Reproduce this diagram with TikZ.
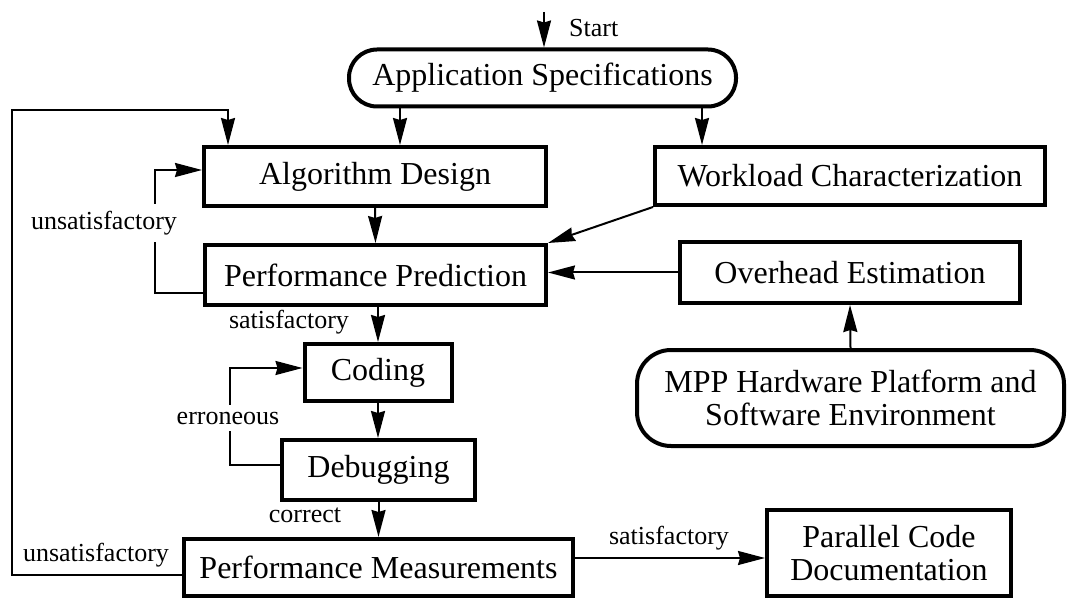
\documentclass[tikz,border=0pt]{standalone}
\usepackage{fontspec}
\setmainfont{Liberation Serif}
\usetikzlibrary{arrows.meta,calc}

\tikzset{
  box/.style={draw, line width=4pt, rectangle, inner sep=0pt,
              font=\fontsize{32}{33}\selectfont, align=center},
  rbox/.style={box, rounded corners=28pt},
  conn/.style={line width=2pt},
  arr/.style={conn, -{Stealth[length=27pt,width=14pt,inset=2pt]}},
  lbl/.style={font=\fontsize{26}{28}\selectfont, inner sep=0pt},
  gaplbl/.style={lbl, fill=white, inner xsep=0pt, inner ysep=7pt}
}

\begin{document}
\begin{tikzpicture}[x=1pt,y=-1pt]
\useasboundingbox (0,0) rectangle (1067,601);

% boxes
\node[rbox, minimum width=387pt, minimum height=57pt] (spec) at (542.5,78) {Application Specifications};
\node[box, minimum width=342pt, minimum height=59pt] (alg) at (375,176.5) {Algorithm Design};
\node[box, minimum width=390pt, minimum height=58pt] (wl) at (850,176) {Workload Characterization};
\node[box, minimum width=341pt, minimum height=60pt] (pred) at (375.5,275) {Performance Prediction};
\node[box, minimum width=340pt, minimum height=61pt] (oh) at (850,272.5) {Overhead Estimation};
\node[rbox, rounded corners=34pt, minimum width=427pt, minimum height=96pt] (mpp) at (850.5,398)
  {MPP Hardware Platform and\\Software Environment};
\node[box, minimum width=147pt, minimum height=57pt] (code) at (378,372.5) {Coding};
\node[box, minimum width=193pt, minimum height=60pt] (dbg) at (378.5,470) {Debugging};
\node[box, minimum width=389pt, minimum height=57pt] (meas) at (378.5,567.5) {Performance Measurements};
\node[box, minimum width=244pt, minimum height=86pt] (doc) at (889,553) {Parallel Code\\Documentation};

% helper coordinates for connector positions
\coordinate (start) at (544,12);
\coordinate (xa) at (400,0);
\coordinate (xw) at (702,0);
\coordinate (xo) at (228,0);
\coordinate (xl) at (12,0);
\coordinate (yt) at (0,110);
\coordinate (xu) at (155,0);
\coordinate (xe) at (230,0);

% start
\draw[arr] (start) -- (start |- spec.north);
\node[lbl, anchor=west] (startlbl) at (569,28) {Start};

% from specifications
\draw[arr] (spec.south -| xa) -- (alg.north -| xa);
\draw[arr] (spec.south -| xw) -- (wl.north -| xw);

% design / prediction chain
\draw[arr] (alg.south) -- (pred.north);
\draw[arr] (wl.south west) -- (pred.north east);
\draw[arr] (oh.west) -- (oh.west -| pred.east);
\draw[arr] (mpp.north) -- (oh.south);

% prediction loop
\draw[arr] ([yshift=-18pt]pred.west) -| (xu |- alg.west) |- ([yshift=6.5pt]alg.west);
\node[gaplbl] (u1) at (104,223) {unsatisfactory};

% coding / debugging chain
\draw[arr] (pred.south -| code.north) -- (code.north);
\node[lbl] (sat1) at (289,322) {satisfactory};
\draw[arr] (code.south) -- (code.south |- dbg.north);
\draw[arr] ([yshift=5pt]dbg.west) -| (xe |- code.west) |- ([yshift=4.5pt]code.west);
\node[gaplbl] (err) at (228,418) {erroneous};
\draw[arr] (dbg.south -| meas.north) -- (meas.north);
\node[lbl] (corr) at (305,515) {correct};

% measurement loop back to design
\draw[arr] ([yshift=-7.5pt]meas.west) -| (xl |- yt) -| (alg.north -| xo);
\node[lbl] (u2) at (96,555) {unsatisfactory};

% measurement to documentation
\draw[arr] ([yshift=9.5pt]meas.east) -- ([yshift=9.5pt]meas.east -| doc.west);
\node[lbl] (sat2) at (669,538) {satisfactory};
\end{tikzpicture}
\end{document}
